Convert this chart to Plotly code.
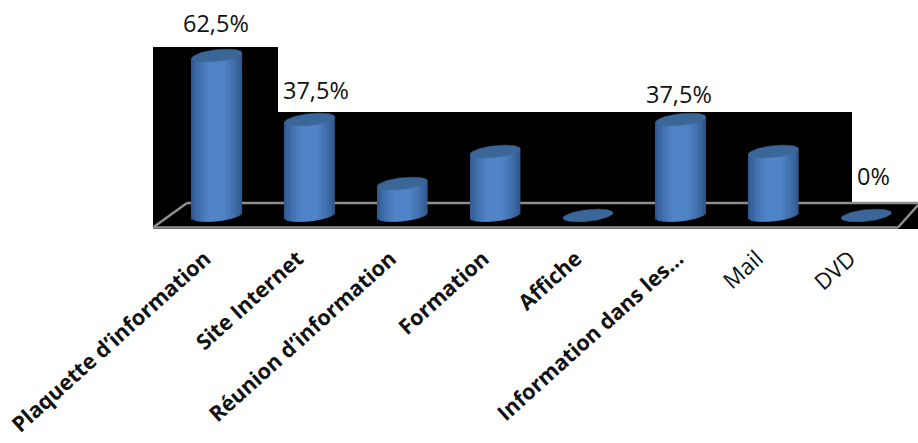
import numpy as np
import plotly.graph_objects as go

categories = ["Plaquette d’information", "Site Internet", "Réunion d’information", "Formation",
              "Affiche", "Information dans les…", "Mail", "DVD"]
values = [62.5, 37.5, 12.5, 25, 0, 37.5, 25, 0]
value_labels = ["62,5%", "37,5%", "", "", "", "37,5%", "", "0%"]
label_bold = [True, True, True, True, True, True, False, False]
label_nudge_px = [0, 0, 0, 0, 0, 9, -4, -4]

W, H = 918, 443
PLOT_H = 235
X0, DX = 217, 92.75      # pixel of first category, pixels per category
Y0, DY = 215.5, 2.56     # pixel of value 0, pixels per unit
HALF_W, CAP_B, CAP_S = 25 / DX, 5.8 / DY, 2.6 / DY
N_STRIPS = 30
EDGE, MID, CAP = (44, 84, 136), (80, 132, 200), "#3b6698"


def mix(t):
    k = (1 - abs(t)) ** 0.7
    k = min(1, k * 1.25)
    return "rgb(%d,%d,%d)" % tuple(round(a + (b - a) * k) for a, b in zip(EDGE, MID))


fig = go.Figure()
ts = (np.arange(N_STRIPS) + 0.5) / N_STRIPS * 2 - 1
sx, sy, sb, sc = [], [], [], []
for i, v in enumerate(values):
    if v <= 0:
        continue
    for t in ts:
        bottom = CAP_S * t - CAP_B * np.sqrt(1 - t * t)
        sx.append(i + t * HALF_W)
        sb.append(bottom)
        sy.append(v + CAP_S * t - bottom)
        sc.append(mix(t))
fig.add_trace(go.Bar(x=sx, y=sy, base=sb, width=2 * HALF_W / N_STRIPS * 1.15,
                     marker=dict(color=sc, line=dict(width=0)), hoverinfo="skip"))

theta = np.linspace(0, 2 * np.pi, 80)
for i, v in enumerate(values):
    fig.add_trace(go.Scatter(
        x=i + HALF_W * np.cos(theta),
        y=v + CAP_S * np.cos(theta) + CAP_B * np.sin(theta),
        mode="lines", fill="toself", fillcolor=CAP, line=dict(color=CAP, width=0.5),
        hoverinfo="skip"))

label_shift = [(-1, 33), (6, 30), (0, 0), (0, 0), (0, 0), (-2, 26), (0, 0), (7, 40)]
for i, (v, txt) in enumerate(zip(values, value_labels)):
    if txt:
        fig.add_annotation(x=i, y=v, text=txt, showarrow=False, xanchor="center", yanchor="middle",
                           xshift=label_shift[i][0], yshift=label_shift[i][1],
                           font=dict(family="Open Sans", size=23.5, color="#111111"))


def px(x):
    return x / W


def py(y):
    return 1 - y / PLOT_H


shapes = [
    dict(type="rect", xref="paper", yref="paper", x0=px(153), x1=px(278), y0=py(229), y1=py(47),
         fillcolor="black", line_width=0, layer="below"),
    dict(type="rect", xref="paper", yref="paper", x0=px(278), x1=px(852), y0=py(229), y1=py(112),
         fillcolor="black", line_width=0, layer="below"),
    dict(type="rect", xref="paper", yref="paper", x0=px(852), x1=px(918), y0=py(229), y1=py(202),
         fillcolor="black", line_width=0, layer="below"),
]
grey = dict(color="#8f8f8f", width=2.5)
for a, b, c, d in [(187, 203, 918, 203), (153, 227.5, 898, 227.5), (153, 227.5, 187, 203), (898, 227.5, 918, 205)]:
    shapes.append(dict(type="line", xref="paper", yref="paper", x0=px(a), y0=py(b), x1=px(c), y1=py(d),
                       line=grey, layer="below"))

fig.update_layout(
    width=W, height=H, autosize=False, showlegend=False,
    margin=dict(l=0, r=0, t=0, b=H - PLOT_H, autoexpand=False),
    paper_bgcolor="white", plot_bgcolor="rgba(0,0,0,0)", barmode="overlay", shapes=shapes,
    font=dict(family="Open Sans", color="#111111"),
    xaxis=dict(range=[-X0 / DX, (W - X0) / DX], tickmode="array",
               tickvals=[i + n / DX for i, n in enumerate(label_nudge_px)],
               ticktext=[f"<b>{c}</b>" if b else f'<span style="font-size:22.5px">{c}</span>'
                         for c, b in zip(categories, label_bold)],
               tickangle=-42, tickfont=dict(family="Open Sans", size=21.5, color="#111111"),
               showgrid=False, zeroline=False, showline=False, ticks="", automargin=False,
               ticklabelstandoff=6, ticklabelshift=-12),
    yaxis=dict(range=[(Y0 - PLOT_H) / DY, Y0 / DY], visible=False, showgrid=False, zeroline=False),
)
fig.write_html("out.html", config={"displayModeBar": False},
               post_script="document.body.style.margin='0';document.body.style.overflow='hidden';")
